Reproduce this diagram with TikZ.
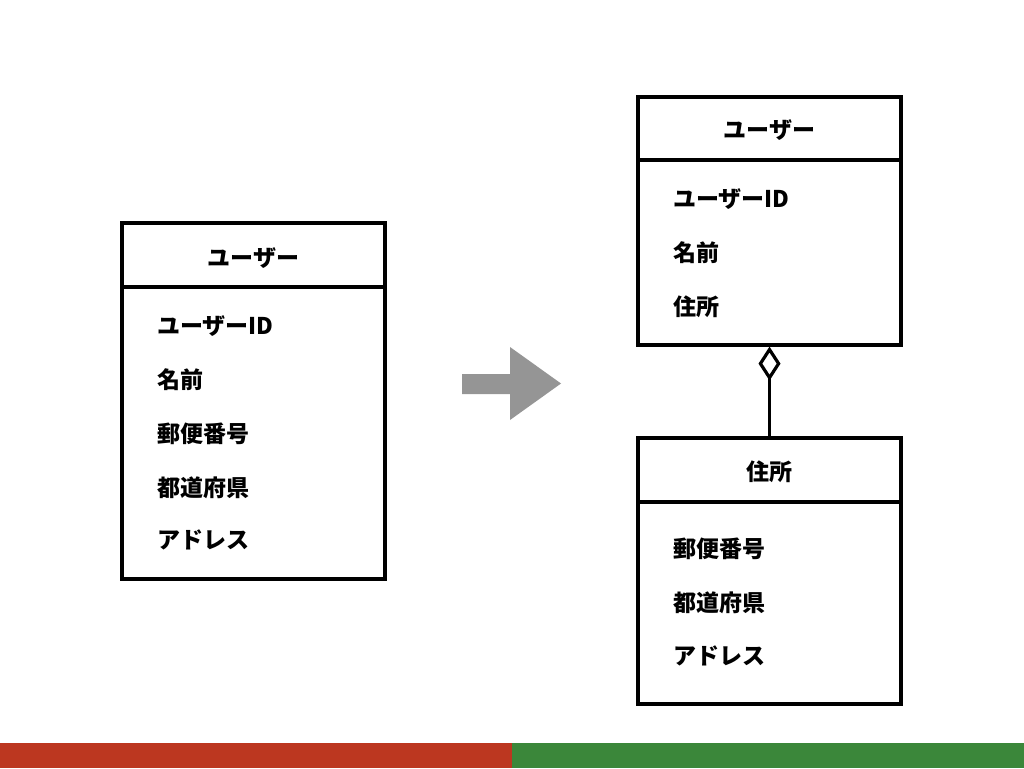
\documentclass[tikz,border=0pt]{standalone}
\usepackage{fontspec}
\setmainfont{Noto Sans CJK JP}
\usetikzlibrary{arrows.meta}
\definecolor{barred}{HTML}{BC3720}
\definecolor{bargreen}{HTML}{3B873A}
\definecolor{arrowgray}{HTML}{959595}
\tikzset{
  entity/.style={draw=black, line width=3.2pt, rectangle, inner sep=0pt},
  divider/.style={draw=black, line width=3.2pt},
  title/.style={font=\bfseries\fontsize{23}{26}\selectfont, inner sep=0pt},
  item/.style={font=\bfseries\fontsize{23}{26}\selectfont, inner sep=0pt, anchor=west},
  aggr/.style={line width=3.2pt, {Diamond[open, length=34pt, width=22pt, line width=3.2pt]}-}
}
\begin{document}
\begin{tikzpicture}[x=1pt,y=-1pt]
\useasboundingbox (0,0) rectangle (1024,768);
% bottom bars
\fill[barred] (0,743) rectangle (512,768);
\fill[bargreen] (512,743) rectangle (1024,768);

% left entity
\node[entity, minimum width=263pt, minimum height=356pt] (L) at (253.5,401) {};
\draw[divider] (122,287) -- (385,287);
\node[title] (Lt) at (253.5,258) {ユーザー};
\node[item] (L1) at (157,326) {ユーザーID};
\node[item] (L2) at (157,380) {名前};
\node[item] (L3) at (157,434) {郵便番号};
\node[item] (L4) at (157,488) {都道府県};
\node[item] (L5) at (157,540) {アドレス};

% gray arrow
\fill[arrowgray] (462,374) -- (510,374) -- (510,347) -- (561,383.5) -- (510,420) -- (510,394) -- (462,394) -- cycle;

% right top entity
\node[entity, minimum width=263pt, minimum height=248pt] (U) at (769.5,221) {};
\draw[divider] (638,160) -- (901,160);
\node[title] (Ut) at (769.5,130) {ユーザー};
\node[item] (U1) at (673,199) {ユーザーID};
\node[item] (U2) at (673,253) {名前};
\node[item] (U3) at (673,307) {住所};

% right bottom entity
\node[entity, minimum width=263pt, minimum height=266pt] (A) at (769.5,571) {};
\draw[divider] (638,502) -- (901,502);
\node[title] (At) at (769.5,472) {住所};
\node[item] (A1) at (673,549) {郵便番号};
\node[item] (A2) at (673,603) {都道府県};
\node[item] (A3) at (673,656) {アドレス};

% aggregation
\draw[aggr] (U.south) -- (A.north);
\end{tikzpicture}
\end{document}
